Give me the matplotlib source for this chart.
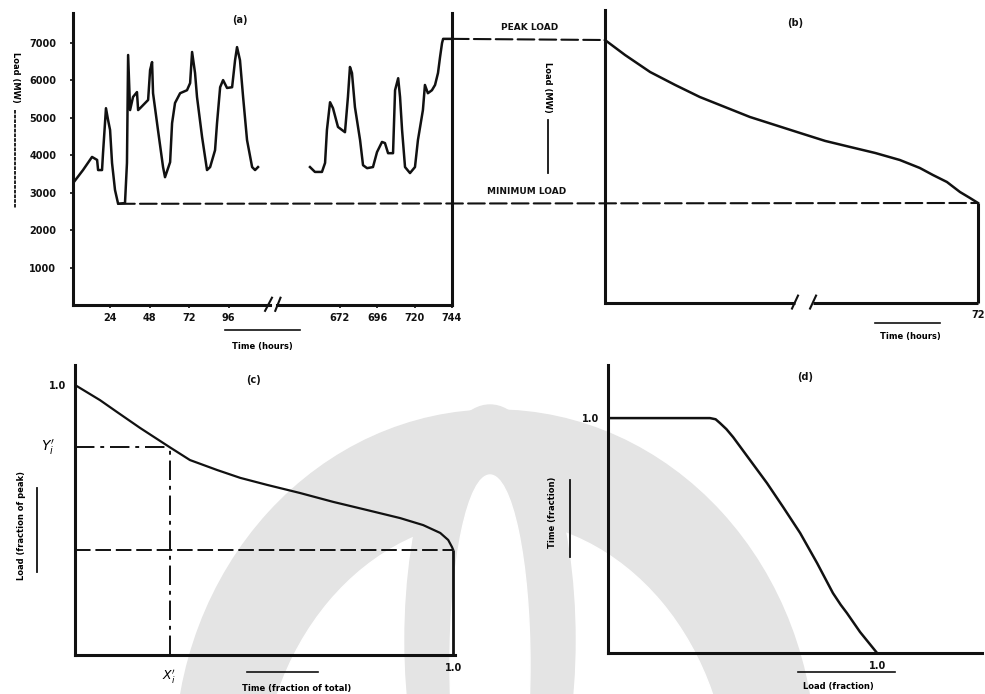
import matplotlib
matplotlib.use('Agg')
import matplotlib.pyplot as plt
from matplotlib.patches import ConnectionPatch, Ellipse
from matplotlib.lines import Line2D

# (a) beban per jam, dua potongan sumbu waktu
jam_kiri = [1.2, 7.3, 12.8, 15.9, 16.5, 18.9, 19.5, 21.3, 22.6, 23.8, 25.0, 26.8, 28.7, 32.9, 34.1, 34.8,
            36.0, 37.8, 40.2, 40.9, 42.1, 47.0, 48.2, 49.4, 50.0, 53.0, 56.1, 57.3, 60.4, 61.6, 63.4, 66.5,
            70.7, 72.6, 73.8, 75.6, 76.8, 79.9, 82.9, 84.8, 87.8, 89.0, 90.9, 92.7, 95.1, 98.2, 100.0, 101.2,
            103.0, 104.9, 107.3, 110.4, 112.2, 114.0]
beban_kiri = [3250, 3600, 3950, 3870, 3600, 3600, 4050, 5250, 4930, 4670, 3790, 3070, 2700, 2720, 3790, 6670,
              5200, 5550, 5680, 5200, 5250, 5470, 6270, 6480, 5650, 4670, 3680, 3410, 3810, 4850, 5390, 5650,
              5730, 5920, 6750, 6190, 5550, 4480, 3600, 3680, 4130, 4850, 5810, 6000, 5790, 5810, 6530, 6880,
              6530, 5550, 4400, 3680, 3600, 3680]
jam_kanan = [652.7, 655.9, 660.4, 662.4, 663.6, 665.6, 667.5, 670.7, 675.2, 677.1, 678.4, 679.7, 681.6, 684.9,
             686.8, 689.4, 693.2, 695.8, 699.0, 700.9, 702.9, 706.1, 707.4, 709.4, 710.6, 711.9, 713.8, 717.0,
             720.2, 722.1, 725.3, 726.6, 728.5, 731.1, 733.1, 735.0, 736.3, 737.6, 738.3, 744.0]
beban_kanan = [3680, 3550, 3550, 3790, 4670, 5410, 5250, 4750, 4610, 5550, 6350, 6190, 5280, 4400,
               3730, 3650, 3680, 4080, 4350, 4320, 4050, 4050, 5730, 6050, 5550, 4670, 3680, 3520,
               3680, 4400, 5200, 5870, 5650, 5730, 5870, 6190, 6610, 6990, 7100, 7100]
yticks_a = [1000, 2000, 3000, 4000, 5000, 6000, 7000]
xticks_kiri = [24, 48, 72, 96]
xticks_kanan = [672, 696, 720, 744]
beban_puncak = 7100
beban_min = 2700

# (b) kurva durasi beban
jam_b = [0, 40, 90, 140, 189, 239, 289, 339, 389, 439, 489, 539, 588, 628, 654, 682, 708, 728, 744]
beban_b = [7100, 6695, 6236, 5886, 5562, 5292, 5022, 4806, 4590, 4376, 4212, 4050, 3861, 3645, 3456, 3267,
           2997, 2835, 2700]

# (c) kurva durasi ternormalisasi
waktu_c = [0, 0.066, 0.111, 0.172, 0.25, 0.304, 0.376, 0.437, 0.508, 0.595, 0.683, 0.772, 0.86, 0.921,
           0.966, 0.987, 0.997, 1.0]
beban_c = [1.0, 0.944, 0.9, 0.841, 0.77, 0.722, 0.685, 0.656, 0.63, 0.6, 0.567, 0.537, 0.507, 0.481,
           0.452, 0.426, 0.40, 0.39]
xi, yi = 0.25, 0.77
beban_min_c = 0.39

# (d) kurva terbalik
beban_d = [0, 0.379, 0.40, 0.416, 0.44, 0.465, 0.528, 0.591, 0.651, 0.714, 0.777, 0.836, 0.865, 0.888, 0.937, 1.0]
waktu_d = [1.0, 1.0, 0.995, 0.979, 0.953, 0.919, 0.821, 0.723, 0.621, 0.511, 0.383, 0.255, 0.205, 0.17, 0.089, 0.0]

W, H = 985, 694
hitam = '#111111'
dash = (0, (8, 2.5))


def fx(px):
    return px / W


def fy(py):
    return 1 - py / H


fig = plt.figure(figsize=(W / 100, H / 100), dpi=100)

# watermark samar di belakang
for cx, cy, w, h, c in [(495, 760, 640, 700, '#e4e4e4'), (495, 800, 470, 560, 'white'),
                        (490, 640, 170, 470, '#e4e4e4'), (490, 665, 80, 380, 'white')]:
    fig.patches.append(Ellipse((fx(cx), fy(cy)), w / W, h / H, color=c, transform=fig.transFigure,
                               zorder=-5))


def ejes(x0, y0, x1, y1):
    ax = fig.add_axes([fx(x0), fy(y1), (x1 - x0) / W, (y1 - y0) / H])
    ax.set_facecolor('none')
    for s in ax.spines.values():
        s.set_linewidth(2.2)
        s.set_color(hitam)
    ax.spines['top'].set_visible(False)
    ax.spines['right'].set_visible(False)
    ax.tick_params(labelsize=7, length=2, width=1.2, color=hitam)
    return ax


fuente = dict(fontsize=7, fontweight='bold', color=hitam)

# ---- (a)
ax_a1 = ejes(73, 13, 270, 305)
ax_a2 = ejes(277, 13, 452, 305)
ax_a1.plot(jam_kiri, beban_kiri, color=hitam, lw=1.8)
ax_a2.plot(jam_kanan, beban_kanan, color=hitam, lw=1.8)
ax_a1.set_xlim(1.2, 121.3)
ax_a2.set_xlim(631.5, 744)
for ax in (ax_a1, ax_a2):
    ax.set_ylim(0, 7790)
ax_a1.set_yticks(yticks_a)
ax_a1.set_yticklabels([str(v) for v in yticks_a], **fuente)
ax_a1.tick_params(axis='y', pad=10)
ax_a1.set_xticks(xticks_kiri)
ax_a1.set_xticklabels([str(v) for v in xticks_kiri], **fuente)
ax_a2.set_xticks(xticks_kanan)
ax_a2.set_xticklabels([str(v) for v in xticks_kanan], **fuente)
ax_a2.spines['left'].set_visible(False)
ax_a2.spines['right'].set_visible(True)
ax_a2.set_yticks([])
ax_a1.plot([0.975, 1.01], [-0.02, 0.025], transform=ax_a1.transAxes, color=hitam, lw=1.5, clip_on=False)
ax_a2.plot([-0.01, 0.02], [-0.02, 0.025], transform=ax_a2.transAxes, color=hitam, lw=1.5, clip_on=False)
fig.text(fx(240), fy(20), '(a)', ha='center', va='center', **fuente)

# ---- (b)
ax_b = ejes(605, 10, 978, 303)
ax_b.plot(jam_b, beban_b, color=hitam, lw=1.8, clip_on=False)
ax_b.vlines(jam_b[-1], 0, beban_min, color=hitam, lw=2.2, clip_on=False)
ax_b.set_xlim(0, 744)
ax_b.set_ylim(0, 7910)
ax_b.spines['bottom'].set_visible(False)
ax_b.plot([0, 379], [0, 0], color=hitam, lw=2.2, clip_on=False, solid_capstyle='butt')
ax_b.plot([415, 744], [0, 0], color=hitam, lw=2.2, clip_on=False, solid_capstyle='butt')
for xb in (379, 415):
    ax_b.plot([xb - 6, xb + 6], [-150, 200], color=hitam, lw=1.5, clip_on=False)
ax_b.set_yticks([])
ax_b.set_xticks([744])
ax_b.set_xticklabels(['72'], **fuente)
ax_b.tick_params(axis='x', length=0, pad=5)
fig.text(fx(795), fy(23), '(b)', ha='center', va='center', **fuente)

# garis puncak & minimum antar panel
fig.add_artist(ConnectionPatch((744, beban_puncak), (0, beban_puncak), 'data', 'data',
                               axesA=ax_a2, axesB=ax_b, color=hitam, lw=1.5, linestyle=dash))
fig.add_artist(ConnectionPatch((jam_kiri[12], beban_min), (744, beban_min), 'data', 'data',
                               axesA=ax_a1, axesB=ax_b, color=hitam, lw=1.5, linestyle=dash))
fig.text(fx(530), fy(27), 'PEAK LOAD', ha='center', va='center', fontsize=6.5, fontweight='bold', color=hitam)
fig.text(fx(527), fy(192), 'MINIMUM LOAD', ha='center', va='center', fontsize=6.5, fontweight='bold', color=hitam)

# label sumbu (a) dan (b)
fig.text(fx(15), fy(77), 'Load (MW)', rotation=270, ha='center', va='center', fontsize=6, fontweight='bold')
fig.add_artist(Line2D([fx(15), fx(15)], [fy(110), fy(208)], color=hitam, lw=1.3, linestyle=(0, (2, 0.6))))
fig.text(fx(548), fy(87), 'Load (MW)', rotation=270, ha='center', va='center', fontsize=6, fontweight='bold')
fig.add_artist(Line2D([fx(548), fx(548)], [fy(120), fy(173)], color=hitam, lw=1.3))
fig.text(fx(262), fy(346), 'Time (hours)', ha='center', va='center', fontsize=6, fontweight='bold')
fig.add_artist(Line2D([fx(225), fx(300)], [fy(330), fy(330)], color=hitam, lw=1.2))
fig.text(fx(910), fy(337), 'Time (hours)', ha='center', va='center', fontsize=6, fontweight='bold')
fig.add_artist(Line2D([fx(875), fx(940)], [fy(323), fy(323)], color=hitam, lw=1.2))

# ---- (c)
ax_c = ejes(75, 365, 455, 655)
ax_c.plot(waktu_c, beban_c, color=hitam, lw=1.6)
ax_c.hlines(yi, 0, xi, color=hitam, lw=1.4, linestyle=(0, (10, 3, 2, 3)))
ax_c.vlines(xi, 0, yi, color=hitam, lw=1.4, linestyle=(0, (10, 3, 2, 3)))
ax_c.hlines(beban_min_c, 0, 1.0, color=hitam, lw=1.4, linestyle=dash)
ax_c.vlines(1.0, 0, beban_min_c, color=hitam, lw=2.0)
ax_c.set_xlim(0, 1.005)
ax_c.set_ylim(0, 1.074)
ax_c.set_yticks([1.0])
ax_c.set_yticklabels(['1.0'], **fuente)
ax_c.set_xticks([1.0])
ax_c.set_xticklabels(['1.0'], **fuente)
ax_c.tick_params(length=0, pad=6)
ax_c.text(-0.07, yi, "$Y_i'$", transform=ax_c.get_yaxis_transform(), ha='center', va='center', fontsize=10)
ax_c.text(xi, -0.075, "$X_i'$", transform=ax_c.get_xaxis_transform(), ha='center', va='center', fontsize=9)
fig.text(fx(253), fy(380), '(c)', ha='center', va='center', **fuente)
fig.text(fx(297), fy(688), 'Time (fraction of total)', ha='center', va='center', fontsize=6, fontweight='bold')
fig.add_artist(Line2D([fx(247), fx(318)], [fy(672), fy(672)], color=hitam, lw=1.2))
fig.text(fx(22), fy(525), 'Load (fraction of peak)', rotation=90, ha='center', va='center', fontsize=6,
         fontweight='bold')
fig.add_artist(Line2D([fx(37), fx(37)], [fy(572), fy(488)], color=hitam, lw=1.3))

# ---- (d)
ax_d = ejes(608, 365, 982, 653)
ax_d.plot(beban_d, waktu_d, color=hitam, lw=1.8)
ax_d.set_xlim(0, 1.39)
ax_d.set_ylim(0, 1.226)
ax_d.set_xticks([1.0])
ax_d.set_xticklabels(['1.0'], **fuente)
ax_d.set_yticks([1.0])
ax_d.set_yticklabels(['1.0'], **fuente)
ax_d.tick_params(length=0, pad=6)
fig.text(fx(805), fy(377), '(d)', ha='center', va='center', **fuente)
fig.text(fx(838), fy(686), 'Load (fraction)', ha='center', va='center', fontsize=6, fontweight='bold')
fig.add_artist(Line2D([fx(798), fx(895)], [fy(672), fy(672)], color=hitam, lw=1.2))
fig.text(fx(553), fy(512), 'Time (fraction)', rotation=90, ha='center', va='center', fontsize=6,
         fontweight='bold')
fig.add_artist(Line2D([fx(570), fx(570)], [fy(557), fy(480)], color=hitam, lw=1.3))

fig.savefig('out.png', dpi=100, facecolor='white')
